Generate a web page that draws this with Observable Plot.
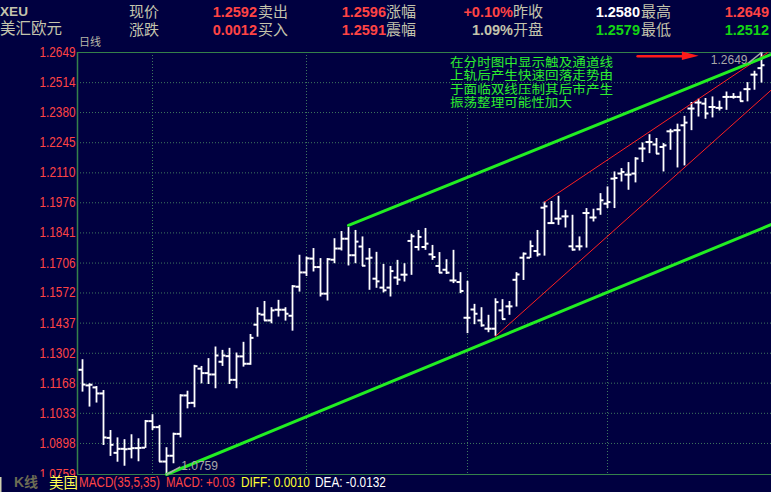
<!DOCTYPE html>
<html><head><meta charset="utf-8">
<script src="https://cdn.jsdelivr.net/npm/d3@7"></script>
<script src="https://cdn.jsdelivr.net/npm/@observablehq/plot@0.6"></script>
<style>
html,body{margin:0;padding:0;background:#000040;}
#wrap{position:relative;width:771px;height:492px;background:#000040;overflow:hidden;}
#wrap svg{position:absolute;left:0;top:0;}
</style></head>
<body><div id="wrap"></div>
<script>
// ---------- data ----------
const barOpen = [
1.1228,1.1158,1.1149,1.1122,1.0923,1.0856,1.0874,1.0874,1.0877,1.0879,
1.0998,1.0971,1.0817,1.0843,1.0941,1.1113,1.1080,1.1233,1.1213,1.1207,
1.1264,1.1289,1.1183,1.1288,1.1255,1.1430,1.1475,1.1449,1.1497,1.1497,
1.1470,1.1600,1.1664,1.1726,1.1688,1.1569,1.1721,1.1771,1.1815,1.1741,
1.1780,1.1726,1.1636,1.1596,1.1596,1.1641,1.1654,1.1805,1.1778,1.1778,
1.1745,1.1693,1.1676,1.1628,1.1621,1.1461,1.1498,1.1449,1.1412,1.1412,
1.1494,1.1512,1.1631,1.1730,1.1730,1.1760,1.1954,1.1885,1.1905,1.1915,
1.1781,1.1781,1.1930,1.1910,1.1947,1.1972,1.2084,1.2107,1.2102,1.2107,
1.2219,1.2248,1.2237,1.2226,1.2296,1.2301,1.2323,1.2398,1.2425,1.2420,
1.2405,1.2401,1.2450,1.2450,1.2450,1.2485,1.2550,1.2579];
const barHigh = [
1.1273,1.1165,1.1153,1.1135,1.0956,1.0923,1.0915,1.0937,1.0919,1.1001,
1.1027,1.0979,1.0879,1.0944,1.1116,1.1132,1.1248,1.1243,1.1278,1.1330,
1.1315,1.1324,1.1303,1.1351,1.1386,1.1506,1.1534,1.1506,1.1539,1.1506,
1.1605,1.1741,1.1733,1.1771,1.1726,1.1726,1.1815,1.1847,1.1865,1.1852,
1.1823,1.1771,1.1754,1.1700,1.1691,1.1718,1.1703,1.1835,1.1852,1.1861,
1.1785,1.1753,1.1721,1.1763,1.1663,1.1624,1.1521,1.1506,1.1472,1.1546,
1.1542,1.1534,1.1663,1.1751,1.1805,1.1852,1.1979,1.1982,1.2005,1.1942,
1.1920,1.1823,1.1950,1.1947,1.2017,1.2047,1.2114,1.2129,1.2156,1.2178,
1.2244,1.2281,1.2264,1.2241,1.2305,1.2328,1.2363,1.2425,1.2440,1.2443,
1.2450,1.2431,1.2472,1.2465,1.2472,1.2514,1.2565,1.2649];
const barLow = [
1.1128,1.1061,1.1079,1.0889,1.0840,1.0814,1.0796,1.0829,1.0816,1.0876,
1.0956,1.0814,1.0759,1.0807,1.0923,1.1053,1.1058,1.1165,1.1162,1.1143,
1.1243,1.1162,1.1143,1.1240,1.1248,1.1374,1.1446,1.1434,1.1464,1.1446,
1.1401,1.1576,1.1646,1.1666,1.1554,1.1536,1.1703,1.1760,1.1693,1.1703,
1.1690,1.1584,1.1593,1.1572,1.1554,1.1606,1.1621,1.1651,1.1760,1.1763,
1.1718,1.1659,1.1655,1.1614,1.1569,1.1390,1.1430,1.1419,1.1394,1.1378,
1.1452,1.1472,1.1509,1.1628,1.1727,1.1733,1.1737,1.1879,1.1875,1.1863,
1.1760,1.1760,1.1773,1.1890,1.1920,1.1950,1.1950,1.2069,1.2032,1.2065,
1.2156,1.2196,1.2193,1.2114,1.2211,1.2132,1.2141,1.2299,1.2360,1.2350,
1.2356,1.2387,1.2390,1.2440,1.2428,1.2428,1.2480,1.2512];
const barClose = [
1.1162,1.1161,1.1122,1.0925,1.0892,1.0874,1.0872,1.0877,1.0878,1.0998,
1.0971,1.0817,1.0843,1.0941,1.1113,1.1079,1.1244,1.1213,1.1207,1.1292,
1.1292,1.1183,1.1288,1.1255,1.1371,1.1479,1.1449,1.1494,1.1497,1.1479,
1.1602,1.1664,1.1727,1.1688,1.1569,1.1723,1.1771,1.1815,1.1741,1.1802,
1.1694,1.1730,1.1624,1.1584,1.1670,1.1632,1.1654,1.1826,1.1823,1.1793,
1.1733,1.1663,1.1663,1.1628,1.1581,1.1461,1.1479,1.1427,1.1412,1.1531,
1.1455,1.1512,1.1655,1.1748,1.1782,1.1745,1.1960,1.1885,1.1905,1.1915,
1.1766,1.1781,1.1930,1.1910,1.1987,1.1979,1.2087,1.2114,1.2102,1.2174,
1.2219,1.2248,1.2196,1.2233,1.2296,1.2301,1.2335,1.2398,1.2425,1.2376,
1.2405,1.2401,1.2450,1.2450,1.2431,1.2485,1.2550,1.2592];

const yTicks = [1.2649,1.2514,1.2380,1.2245,1.2110,1.1976,1.1841,1.1706,1.1572,1.1437,1.1302,1.1168,1.1033,1.0898,1.0759];
const monthStarts = [11, 33, 56, 76];

// channel lines (bar index, price)
const greenUpper = [{i:39, p:1.1875}, {i:99.43, p:1.2641}];
const greenLower = [{i:13, p:1.0759}, {i:99.43, p:1.1879}];
const redLower   = [{i:60, p:1.1378}, {i:99.43, p:1.2482}];
const redUpper   = [{i:67, p:1.1979}, {i:98.9, p:1.2649}];
const arrowShaft = [{i:80.3, p:1.2632}, {i:86.9, p:1.2632}];
const arrowHead  = [{i:86.7, p1:1.2651, p2:1.2613}, {i:89.1, p1:1.2632, p2:1.2632}];
const highMarkLine = [{i:96.2, p:1.2604}, {i:98, p:1.2649}];
const highMarkText = [{i:96.0, p:1.26145, t:"1.2649"}];
const lowMarkLine  = [{i:13, p:1.0759}, {i:14.9, p:1.0792}];
const lowMarkText  = [{i:15.1, p:1.0797, t:"1.0759"}];

// header / texts
const symbolCode = "XEU", symbolName = "美汇欧元", periodName = "日线";
const quoteLabels1 = ["现价","卖出","涨幅","昨收","最高"];
const quoteValues1 = ["1.2592","1.2596","+0.10%","1.2580","1.2649"];
const quoteLabels2 = ["涨跌","买入","震幅","开盘","最低"];
const quoteValues2 = ["0.0012","1.2591","1.09%","1.2579","1.2512"];
const noteLines = ["在分时图中显示触及通道线","上轨后产生快速回落走势由","于面临双线压制其后市产生","振荡整理可能性加大"];
const bottomTab = "K线", bottomName = "美国";
const macdTexts = ["MACD(35,5,35)","MACD: +0.03","DIFF: 0.0010","DEA: -0.0132"];

// ---------- styling ----------
const BG = "#000040", RED = "#ff4444", GREEN = "#14d414", WHITE = "#ffffff", LABEL = "#c4c4ac";
const GRID = "#3f775e", FRAME = "#35804a";
const SANS = "'Liberation Sans', Arial, sans-serif";
const CJK = "'Liberation Sans', 'Noto Sans CJK SC', sans-serif";

const bars = barOpen.map((o, k) => ({i: k + 1, open: o, high: barHigh[k], low: barLow[k], close: barClose[k]}));
const xMin = 1 - 5 / 7, xMax = 1 + 689 / 7;
const gridY = yTicks.slice(1, -1);

const chart = Plot.plot({
  width: 771, height: 492,
  marginLeft: 77, marginRight: 0, marginTop: 52, marginBottom: 18,
  x: {domain: [xMin, xMax], axis: null},
  y: {domain: [1.0759, 1.2649], ticks: yTicks, tickFormat: d => d.toFixed(4), tickSize: 0, tickPadding: 2, label: null},
  style: {background: "transparent", color: RED, fontFamily: SANS, fontSize: "14px", overflow: "visible"},
  marks: [
    Plot.ruleY(gridY, {stroke: GRID, strokeDasharray: "1,2"}),
    Plot.ruleX(monthStarts, {stroke: GRID, strokeDasharray: "1,2"}),
    Plot.ruleY([1.2649, 1.0759], {stroke: FRAME, strokeWidth: 1.2}),
    Plot.ruleX([xMin], {stroke: FRAME, strokeWidth: 1.5}),
    Plot.ruleX(bars, {x: "i", y1: "low", y2: "high", stroke: WHITE, strokeWidth: 1.8}),
    Plot.ruleY(bars, {y: "open", x1: d => d.i - 0.5, x2: "i", stroke: WHITE, strokeWidth: 2}),
    Plot.ruleY(bars, {y: "close", x1: "i", x2: d => d.i + 0.5, stroke: WHITE, strokeWidth: 2}),
    Plot.line(redLower, {x: "i", y: "p", stroke: "#ff2020", strokeWidth: 1}),
    Plot.line(redUpper, {x: "i", y: "p", stroke: "#ff2020", strokeWidth: 1}),
    Plot.line(greenUpper, {x: "i", y: "p", stroke: "#22ee22", strokeWidth: 3}),
    Plot.line(greenLower, {x: "i", y: "p", stroke: "#22ee22", strokeWidth: 3}),
    Plot.line(arrowShaft, {x: "i", y: "p", stroke: "#ff1a1a", strokeWidth: 2.5}),
    Plot.areaY(arrowHead, {x: "i", y1: "p1", y2: "p2", fill: "#ff1a1a"}),
    Plot.line(highMarkLine, {x: "i", y: "p", stroke: "#a8a8a8", strokeWidth: 1.5}),
    Plot.line(lowMarkLine, {x: "i", y: "p", stroke: "#a8a8a8", strokeWidth: 1.5}),
    Plot.text(highMarkText, {x: "i", y: "p", text: "t", textAnchor: "end", fill: "#a8a8a8", fontSize: 12}),
    Plot.text(lowMarkText, {x: "i", y: "p", text: "t", textAnchor: "start", fill: "#a8a8a8", fontSize: 12})
  ]
});
document.getElementById("wrap").appendChild(chart);
d3.select(chart).selectAll('[aria-label^="y-axis"] text')
  .attr("textLength", 36).attr("lengthAdjust", "spacingAndGlyphs").attr("fill", RED);

// ---------- overlay texts ----------
const ov = d3.select("#wrap").append("svg").attr("width", 771).attr("height", 492);
function txt(x, y, s, o) {
  const t = ov.append("text").text(s)
    .attr("font-family", o.cjk ? CJK : SANS).attr("font-size", o.size || 15)
    .attr("fill", o.fill || LABEL);
  if (o.bold) t.attr("font-weight", "bold");
  if (o.anchor) t.attr("text-anchor", o.anchor);
  if (o.len) {
    // squeeze horizontally to the reference width (narrow bitmap-like font)
    t.attr("x", 0).attr("y", 0);
    const nat = t.node().getComputedTextLength();
    t.attr("transform", `translate(${x},${y}) scale(${o.len / nat},1)`);
  } else {
    t.attr("x", x).attr("y", y);
  }
  return t;
}
txt(0, 16, symbolCode, {size: 13, bold: true, len: 28});
txt(0, 34, symbolName, {size: 15.5, cjk: true});
txt(79, 46, periodName, {size: 11, cjk: true, fill: "#b8b8a8"});

const labelX = [129, 258, 386, 513, 641];
const valueEnd = [257, 386, 513, 640, 769];
const colors1 = [RED, RED, RED, WHITE, RED];
const colors2 = [RED, RED, LABEL, GREEN, GREEN];
quoteLabels1.forEach((s, k) => txt(labelX[k], 17, s, {cjk: true, size: 15}));
quoteLabels2.forEach((s, k) => txt(labelX[k], 34.5, s, {cjk: true, size: 15}));
quoteValues1.forEach((s, k) => txt(valueEnd[k], 17, s, {size: 14.5, bold: true, anchor: "end", fill: colors1[k]}));
quoteValues2.forEach((s, k) => txt(valueEnd[k], 34.5, s, {size: 14.5, bold: true, anchor: "end", fill: colors2[k]}));

const noteBase = [67, 80.4, 93.8, 107.2];
noteLines.forEach((s, k) => txt(450, noteBase[k], s, {cjk: true, size: 12, fill: "#2ef02e", len: s.length * 13.75 - 1.75}));

// bottom strip
ov.append("rect").attr("x", 0).attr("y", 477).attr("width", 771).attr("height", 15).attr("fill", BG);
ov.append("rect").attr("x", 0).attr("y", 477).attr("width", 1.5).attr("height", 15).attr("fill", "#d0d0b0");
txt(14, 487, bottomTab, {size: 14, bold: true, cjk: true, fill: "#6c6c54"});
txt(49, 488, bottomName, {size: 14.5, cjk: true, fill: "#ffff50"});
const macdX = [79, 166, 241, 315], macdLen = [81, 69, 69, 71], macdCol = [RED, RED, "#ffff30", WHITE];
macdTexts.forEach((s, k) => txt(macdX[k], 487, s, {size: 14, len: macdLen[k], fill: macdCol[k]}));
</script>
</body></html>
